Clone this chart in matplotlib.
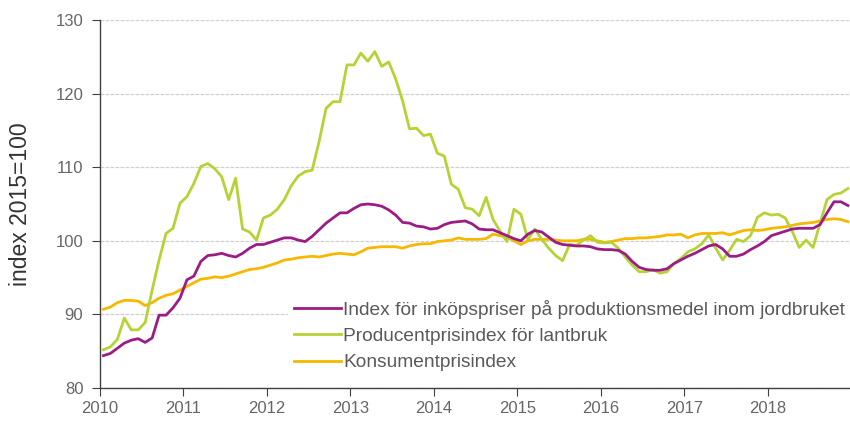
import numpy as np
import matplotlib
matplotlib.use("Agg")
import matplotlib.pyplot as plt

plt.rcParams['font.family'] = ['Liberation Sans', 'DejaVu Sans']

# monthly index values, jan 2010 - dec 2018 (2015=100)
inkop = [84.4, 84.7, 85.4, 86.1, 86.5, 86.7, 86.2, 86.8, 89.9, 89.9, 90.9, 92.2,
         94.7, 95.2, 97.2, 98.0, 98.1, 98.3, 98.0, 97.8, 98.3, 99.0, 99.5, 99.5,
         99.8, 100.1, 100.4, 100.4, 100.1, 99.9, 100.6, 101.5, 102.4, 103.1, 103.8, 103.8,
         104.4, 104.9, 105.0, 104.9, 104.7, 104.2, 103.5, 102.5, 102.4, 102.0, 101.9, 101.6,
         101.7, 102.2, 102.5, 102.6, 102.7, 102.3, 101.6, 101.5, 101.5, 101.1, 100.7, 100.3,
         100.0, 100.9, 101.4, 101.2, 100.5, 99.8, 99.5, 99.4, 99.3, 99.3, 99.2, 98.9,
         98.8, 98.8, 98.7, 98.2, 97.2, 96.4, 96.1, 96.0, 96.0, 96.2, 96.9, 97.4,
         97.9, 98.3, 98.8, 99.3, 99.5, 98.9, 97.9, 97.9, 98.2, 98.8, 99.3, 99.9,
         100.7, 101.0, 101.3, 101.6, 101.7, 101.7, 101.7, 102.2, 103.8, 105.3, 105.3, 104.8]

producent = [85.2, 85.6, 86.6, 89.5, 87.9, 87.9, 88.9, 93.3, 97.4, 101.0, 101.7, 105.1,
             106.0, 107.8, 110.1, 110.5, 109.8, 108.7, 105.6, 108.5, 101.6, 101.2, 100.1, 103.1,
             103.5, 104.3, 105.6, 107.5, 108.8, 109.4, 109.6, 113.5, 118.0, 118.9, 118.9, 123.9,
             123.9, 125.5, 124.4, 125.7, 123.7, 124.3, 122.0, 119.0, 115.2, 115.3, 114.3, 114.5,
             111.9, 111.5, 107.7, 107.0, 104.5, 104.3, 103.4, 105.9, 102.9, 101.3, 99.9, 104.3,
             103.6, 100.2, 101.6, 100.2, 99.0, 98.0, 97.3, 99.5, 99.4, 100.1, 100.7, 99.8,
             99.7, 99.8, 99.0, 97.8, 96.7, 95.8, 95.8, 96.1, 95.6, 95.8, 96.9, 97.6,
             98.5, 98.9, 99.6, 100.8, 99.0, 97.4, 98.7, 100.2, 99.9, 100.7, 103.2, 103.8,
             103.5, 103.6, 103.1, 101.3, 99.1, 100.1, 99.1, 102.4, 105.6, 106.3, 106.5, 107.1]

kpi = [90.7, 91.0, 91.6, 91.9, 91.9, 91.8, 91.2, 91.6, 92.2, 92.6, 92.8, 93.3,
       93.8, 94.3, 94.8, 94.9, 95.1, 95.0, 95.2, 95.5, 95.8, 96.1, 96.2, 96.4,
       96.7, 97.0, 97.4, 97.5, 97.7, 97.8, 97.9, 97.8, 98.0, 98.2, 98.3, 98.2,
       98.1, 98.5, 99.0, 99.1, 99.2, 99.2, 99.2, 99.0, 99.3, 99.5, 99.6, 99.6,
       99.9, 100.0, 100.1, 100.4, 100.2, 100.2, 100.2, 100.3, 100.9, 100.7, 100.5, 100.0,
       99.5, 100.0, 100.2, 100.2, 100.2, 100.1, 100.0, 100.0, 100.0, 100.2, 100.2, 100.0,
       99.8, 99.9, 100.1, 100.3, 100.3, 100.4, 100.4, 100.5, 100.6, 100.8, 100.8, 100.9,
       100.4, 100.8, 101.0, 101.0, 101.0, 101.1, 100.8, 101.1, 101.4, 101.5, 101.4, 101.5,
       101.7, 101.8, 101.9, 102.1, 102.3, 102.4, 102.5, 102.7, 102.9, 103.0, 102.9, 102.6]

labels = ["Index för inköpspriser på produktionsmedel inom jordbruket",
          "Producentprisindex för lantbruk",
          "Konsumentprisindex"]
years = list(range(2010, 2019))

t = 2010 + (np.arange(len(inkop)) + 0.5) / 12

fig = plt.figure(figsize=(8.5, 4.23), dpi=100)
ax = fig.add_axes([0.1176, 0.0827, 0.884, 0.870])

ax.plot(t, inkop, color="#9c1c86", lw=2.0, label=labels[0], zorder=4)
ax.plot(t, producent, color="#b5d334", lw=2.0, label=labels[1], zorder=3)
ax.plot(t, kpi, color="#f6b800", lw=2.0, label=labels[2], zorder=2)

ax.set_xlim(2010, 2019)
ax.set_ylim(80, 130)
ax.set_xticks(years)
ax.set_yticks(range(80, 131, 10))
ax.grid(axis="y", color="#d0d0d0", lw=0.9, ls=(0, (3, 1)))
ax.set_axisbelow(True)
for s in ["top", "right"]:
    ax.spines[s].set_visible(False)
for s in ["left", "bottom"]:
    ax.spines[s].set_color("#404040")
    ax.spines[s].set_linewidth(1.0)
ax.tick_params(direction="out", length=6, color="#404040", labelcolor="#666666", labelsize=12)
ax.tick_params(axis="y", pad=6)
ax.tick_params(axis="x", pad=3)
ax.set_ylabel("index 2015=100", fontsize=16.5, color="#333333")
ax.yaxis.set_label_coords(-0.09, 0.5)

leg = ax.legend(loc="lower left", bbox_to_anchor=(0.25, 0.03), frameon=True, fontsize=13.8,
                handlelength=2.5, handletextpad=0.1, labelspacing=0.45, borderpad=0.3,
                borderaxespad=0)
leg.get_frame().set_edgecolor("none")
leg.get_frame().set_facecolor("white")
leg.get_frame().set_alpha(1)
for txt in leg.get_texts():
    txt.set_color("#595959")

fig.savefig("out.png", dpi=100)
